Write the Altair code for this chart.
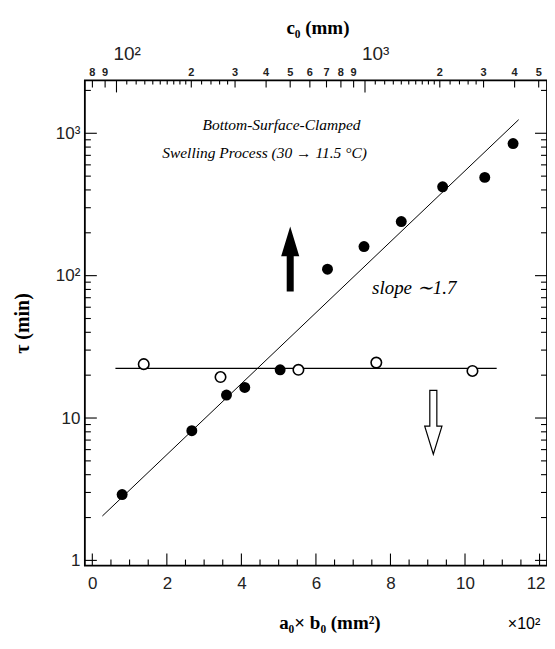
import altair as alt
import pandas as pd

# ---------------- data ----------------
filled_x = [0.8, 2.67, 3.60, 4.09, 5.04, 6.31, 7.29, 8.29, 9.40, 10.53, 11.29]
filled_y = [2.9, 8.15, 14.5, 16.4, 21.8, 111, 160, 240, 421, 490, 847]
open_x = [1.38, 3.44, 5.53, 7.62, 10.2]
open_y = [23.9, 19.4, 21.8, 24.5, 21.4]
fit_x = [0.27, 11.44]
fit_y = [2.05, 1246]
flat_x = [0.62, 10.85]
flat_y = [22.3, 22.3]
up_arrow_x, up_arrow_y = [5.31], [131]
down_arrow_x, down_arrow_y = [9.15], [9.33]

# ---------------- axis ticks ----------------
x_major = [0, 2, 4, 6, 8, 10, 12]
x_last = [12]
x_minor = [0.5, 1, 1.5, 2.5, 3, 3.5, 4.5, 5, 5.5, 6.5, 7, 7.5, 8.5, 9, 9.5,
           10.5, 11, 11.5]
y_major = [1, 10, 100, 1000]
y_minor = [2, 3, 4, 5, 6, 7, 8, 9, 20, 30, 40, 50, 60, 70, 80, 90,
           200, 300, 400, 500, 600, 700, 800, 900, 2000]
c_big = [100, 1000]
c_big_labels = ["10²", "10³"]
c_labeled = [80, 90, 200, 300, 400, 500, 600, 700, 800, 900,
             2000, 3000, 4000, 5000]
c_labeled_text = ["8", "9", "2", "3", "4", "5", "6", "7", "8", "9",
                  "2", "3", "4", "5"]
c_minor = [110, 120, 130, 140, 150, 160, 170, 180, 190, 220, 240, 260, 280,
           1100, 1200, 1300, 1400, 1500, 1600, 1700, 1800, 1900,
           2200, 2400, 2600, 2800]

W, H = 463, 486
XDOM = [-0.2, 12.2]
YDOM = [0.92, 2350]
CDOM = [74.6, 5400]   # top (log) axis range over the same plot width

SANS = "Liberation Sans"
SERIF = "Liberation Serif"

xs = alt.Scale(domain=XDOM, nice=False, zero=False)
ys = alt.Scale(type="log", domain=YDOM, nice=False)

X_AXIS = alt.Axis(
    values=x_major, labelExpr="datum.value == 12 ? '' : format(datum.value, 'd')",
    ticks=False, domain=False, grid=False,
    labelFont=SANS, labelFontSize=17, labelColor="#222", labelPadding=10,
    title="a₀× b₀ (mm²)", titleFont=SERIF, titleFontSize=19,
    titleFontWeight="bold", titleColor="black", titlePadding=22,
    titleX=245)
Y_AXIS = alt.Axis(
    values=y_major,
    labelExpr="datum.value == 1 ? '1' : datum.value == 10 ? '10' : datum.value == 100 ? '10²' : '10³'",
    ticks=False, domain=False, grid=False,
    labelFont=SANS, labelFontSize=17, labelColor="#222", labelPadding=5,
    title="τ (min)", titleFont=SERIF, titleFontSize=20,
    titleFontWeight="bold", titleColor="black", titlePadding=23)

# every layer carries the same axis definition so the shared axis is kept
X0 = alt.X("x:Q", scale=xs, axis=X_AXIS)
Y0 = alt.Y("y:Q", scale=ys, axis=Y_AXIS)

# expression that maps a c0 value onto the bottom x units (log top axis)
C2X = (f"{XDOM[0]} + (log(datum.c) - log({CDOM[0]})) / "
       f"(log({CDOM[1]}) - log({CDOM[0]})) * {XDOM[1] - XDOM[0]}")

filled = pd.DataFrame({"x": filled_x, "y": filled_y})
opened = pd.DataFrame({"x": open_x, "y": open_y})
fit = pd.DataFrame({"x": fit_x, "y": fit_y})
flat = pd.DataFrame({"x": flat_x, "y": flat_y})

pts_filled = alt.Chart(filled).mark_point(
    filled=True, color="black", size=120, opacity=1).encode(x=X0, y=Y0)

pts_open = alt.Chart(opened).mark_point(
    filled=True, fill="white", stroke="black", strokeWidth=1.6, size=110, opacity=1
).encode(x=X0, y=Y0)

line_fit = alt.Chart(fit).mark_line(color="black", strokeWidth=1).encode(x=X0, y=Y0)
line_flat = alt.Chart(flat).mark_line(color="black", strokeWidth=1.2).encode(x=X0, y=Y0)

UP_PATH = ("M -0.108 1 L 0.108 1 L 0.108 -0.08 L 0.28 -0.08 L 0 -1 "
           "L -0.28 -0.08 L -0.108 -0.08 Z")
DOWN_PATH = ("M -0.11 -1 L 0.11 -1 L 0.11 0.12 L 0.27 0.12 L 0 1 "
             "L -0.27 0.12 L -0.11 0.12 Z")

arrow_up = alt.Chart(pd.DataFrame({"x": up_arrow_x, "y": up_arrow_y})).mark_point(
    shape=UP_PATH, filled=True, fill="black", strokeWidth=0, size=4225, opacity=1
).encode(x=X0, y=Y0)
arrow_down = alt.Chart(pd.DataFrame({"x": down_arrow_x, "y": down_arrow_y})).mark_point(
    shape=DOWN_PATH, filled=True, fill="white", stroke="black", strokeWidth=1.2,
    size=4096, opacity=1
).encode(x=X0, y=Y0)


def xticks(vals, length):
    d = pd.DataFrame({"x": vals})
    return alt.Chart(d).mark_rule(color="black", strokeWidth=1.1).encode(
        x=X0, y=alt.value(H), y2=alt.value(H - length))


def yticks(vals, length, right=False):
    d = pd.DataFrame({"y": vals})
    if right:
        return alt.Chart(d).mark_rule(color="black", strokeWidth=1.1).encode(
            y=Y0, x=alt.value(W), x2=alt.value(W - length))
    return alt.Chart(d).mark_rule(color="black", strokeWidth=1.1).encode(
        y=Y0, x=alt.value(0), x2=alt.value(length))


def cticks(vals, length):
    d = pd.DataFrame({"c": vals})
    return alt.Chart(d).transform_calculate(x=C2X).mark_rule(
        color="black", strokeWidth=1.1).encode(
        x=X0, y=alt.value(0), y2=alt.value(length))


def txt(s, px, py, size, style="italic", font=SERIF, weight="normal",
        align="center"):
    return alt.Chart(pd.DataFrame({"t": [s]})).mark_text(
        font=font, fontSize=size, fontStyle=style, fontWeight=weight,
        color="black", align=align, baseline="middle"
    ).encode(text="t:N", x=alt.value(px), y=alt.value(py))


# last bottom label kept inside the page edge
last_label = alt.Chart(pd.DataFrame({"x": x_last, "t": ["12"]})).mark_text(
    font=SANS, fontSize=17, color="#222", align="right", baseline="top", dx=6
).encode(x=X0, y=alt.value(H + 10), text="t:N")

top_small_txt = alt.Chart(pd.DataFrame({"c": c_labeled, "t": c_labeled_text})
).transform_calculate(x=C2X).mark_text(
    font=SANS, fontSize=11, fontWeight="bold", color="#222",
    align="center", baseline="alphabetic"
).encode(x=X0, y=alt.value(-4), text="t:N")

top_big_txt = alt.Chart(pd.DataFrame({"c": c_big, "t": c_big_labels})
).transform_calculate(x=C2X).mark_text(
    font=SANS, fontSize=19, color="#222", align="left",
    baseline="alphabetic", dx=-3
).encode(x=X0, y=alt.value(-20), text="t:N")

chart = alt.layer(
    line_fit, line_flat, pts_open, pts_filled, arrow_up, arrow_down,
    xticks(x_major, 12), xticks(x_minor, 6),
    yticks(y_major, 12), yticks(y_minor, 6),
    yticks(y_major, 12, right=True), yticks(y_minor, 6, right=True),
    cticks(c_big, 12), cticks(c_labeled, 7), cticks(c_minor, 4),
    top_small_txt, top_big_txt, last_label,
    txt("c₀ (mm)", W / 2 + 2, -53, 19, style="normal", weight="bold"),
    txt("Bottom-Surface-Clamped", 197, 45, 15.5),
    txt("Swelling Process (30 → 11.5 °C)", 180, 73, 15.5),
    txt("slope ∼1.7", 330, 208, 19),
    txt("×10²", 440, 545, 16, style="normal", font=SANS),
).properties(
    width=W, height=H,
    autosize=alt.AutoSizeParams(type="none"),
    padding={"left": 77, "top": 72, "right": 0, "bottom": 70},
    background="white",
).configure_view(stroke="black", strokeWidth=1.8)

chart.save("out.html", embed_options={"renderer": "svg", "actions": False})
